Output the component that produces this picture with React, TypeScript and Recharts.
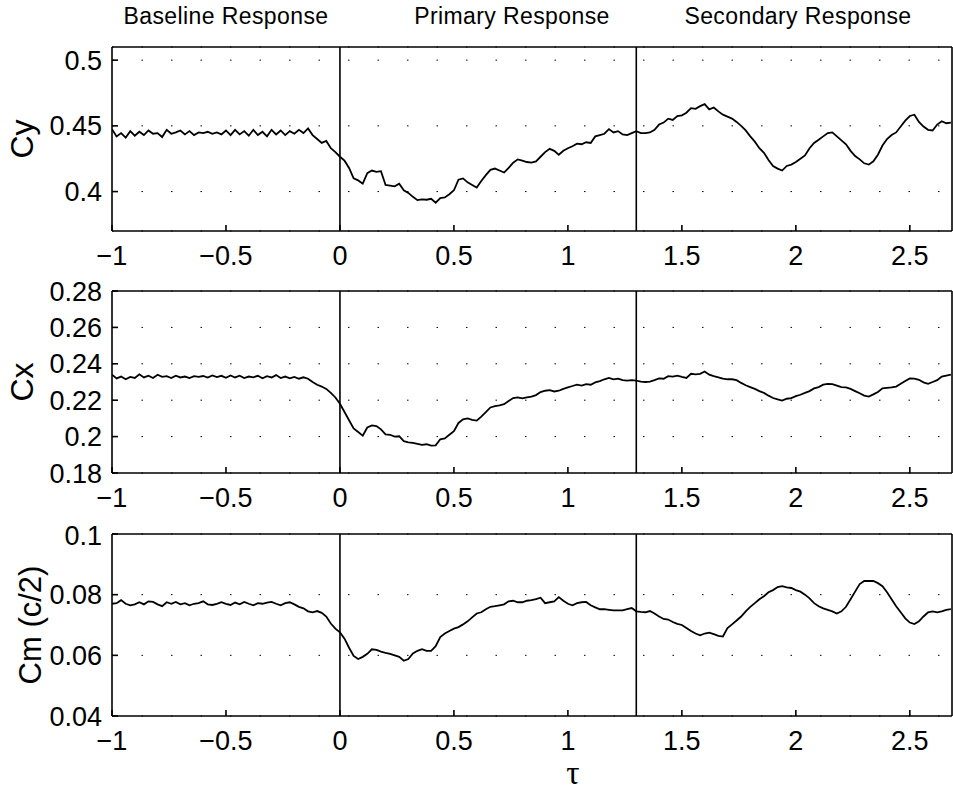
import { LineChart, Line, XAxis, YAxis, CartesianGrid, ReferenceLine } from 'recharts'

// sampling grid: tau = -1 .. 2.68, every 0.02
const tau = Array.from({ length: 185 }, (_, i) => Number((-1 + i * 0.02).toFixed(2)))

const phaseBounds = [0, 1.3]
const phaseNames = ['Baseline Response', 'Primary Response', 'Secondary Response']
const xTicks = [-1, -0.5, 0, 0.5, 1, 1.5, 2, 2.5]

const cy = [
  0.4475, 0.4420, 0.4445, 0.4410, 0.4460, 0.4425, 0.4455, 0.4430, 0.4465, 0.4440,
  0.4445, 0.4415, 0.4470, 0.4440, 0.4450, 0.4465, 0.4435, 0.4460, 0.4430, 0.4450,
  0.4445, 0.4455, 0.4440, 0.4450, 0.4435, 0.4465, 0.4430, 0.4470, 0.4435, 0.4460,
  0.4425, 0.4470, 0.4430, 0.4455, 0.4420, 0.4470, 0.4435, 0.4465, 0.4430, 0.4460,
  0.4440, 0.4470, 0.4445, 0.4480, 0.4430, 0.4400, 0.4370, 0.4385, 0.4330, 0.4300,
  0.4265, 0.4235, 0.4180, 0.4100, 0.4085, 0.4060, 0.4140, 0.4160, 0.4150, 0.4155,
  0.4050, 0.4045, 0.4040, 0.4060, 0.4010, 0.3990, 0.3960, 0.3935, 0.3940, 0.3938,
  0.3945, 0.3915, 0.3950, 0.3955, 0.3980, 0.4010, 0.4090, 0.4100, 0.4070, 0.4050,
  0.4030, 0.4080, 0.4125, 0.4165, 0.4175, 0.4160, 0.4145, 0.4180, 0.4220, 0.4245,
  0.4235, 0.4225, 0.4220, 0.4230, 0.4265, 0.4300, 0.4325, 0.4310, 0.4280, 0.4310,
  0.4330, 0.4345, 0.4365, 0.4360, 0.4375, 0.4370, 0.4420, 0.4430, 0.4440, 0.4475,
  0.4450, 0.4460, 0.4435, 0.4430, 0.4445, 0.4460, 0.4445, 0.4445, 0.4450, 0.4470,
  0.4510, 0.4525, 0.4555, 0.4545, 0.4575, 0.4580, 0.4600, 0.4635, 0.4630, 0.4650,
  0.4665, 0.4625, 0.4640, 0.4610, 0.4585, 0.4570, 0.4555, 0.4530, 0.4500, 0.4465,
  0.4420, 0.4380, 0.4330, 0.4295, 0.4240, 0.4195, 0.4175, 0.4160, 0.4195, 0.4205,
  0.4225, 0.4250, 0.4275, 0.4330, 0.4370, 0.4395, 0.4420, 0.4445, 0.4450, 0.4420,
  0.4390, 0.4360, 0.4310, 0.4270, 0.4245, 0.4215, 0.4205, 0.4230, 0.4280, 0.4350,
  0.4400, 0.4430, 0.4450, 0.4495, 0.4540, 0.4575, 0.4585, 0.4530, 0.4495, 0.4470,
  0.4465, 0.4510, 0.4535, 0.4520, 0.4525,
]

const cx = [
  0.2340, 0.2320, 0.2330, 0.2315, 0.2328, 0.2322, 0.2342, 0.2325, 0.2335, 0.2322,
  0.2340, 0.2328, 0.2332, 0.2322, 0.2335, 0.2325, 0.2330, 0.2322, 0.2332, 0.2328,
  0.2333, 0.2324, 0.2336, 0.2327, 0.2334, 0.2323, 0.2336, 0.2325, 0.2335, 0.2322,
  0.2330, 0.2326, 0.2334, 0.2320, 0.2332, 0.2325, 0.2338, 0.2322, 0.2330, 0.2320,
  0.2328, 0.2318, 0.2326, 0.2318, 0.2300, 0.2285, 0.2275, 0.2262, 0.2240, 0.2215,
  0.2180, 0.2135, 0.2090, 0.2045, 0.2025, 0.2005, 0.2050, 0.2062, 0.2058, 0.2040,
  0.2012, 0.2010, 0.2000, 0.2002, 0.1975, 0.1968, 0.1965, 0.1960, 0.1955, 0.1958,
  0.1950, 0.1952, 0.1985, 0.1990, 0.2010, 0.2030, 0.2075, 0.2095, 0.2100, 0.2092,
  0.2088, 0.2110, 0.2135, 0.2160, 0.2168, 0.2172, 0.2178, 0.2195, 0.2212, 0.2215,
  0.2210, 0.2215, 0.2220, 0.2228, 0.2245, 0.2252, 0.2255, 0.2248, 0.2252, 0.2262,
  0.2270, 0.2278, 0.2285, 0.2280, 0.2288, 0.2285, 0.2298, 0.2305, 0.2315, 0.2322,
  0.2315, 0.2318, 0.2310, 0.2308, 0.2310, 0.2308, 0.2302, 0.2300, 0.2302, 0.2310,
  0.2320, 0.2318, 0.2332, 0.2330, 0.2335, 0.2328, 0.2322, 0.2345, 0.2342, 0.2345,
  0.2358, 0.2340, 0.2332, 0.2325, 0.2318, 0.2315, 0.2315, 0.2310, 0.2295, 0.2282,
  0.2272, 0.2262, 0.2250, 0.2240, 0.2225, 0.2212, 0.2205, 0.2198, 0.2208, 0.2212,
  0.2222, 0.2230, 0.2240, 0.2250, 0.2265, 0.2272, 0.2285, 0.2290, 0.2288, 0.2280,
  0.2272, 0.2270, 0.2262, 0.2250, 0.2238, 0.2225, 0.2220, 0.2232, 0.2245, 0.2265,
  0.2268, 0.2270, 0.2275, 0.2290, 0.2305, 0.2320, 0.2318, 0.2312, 0.2298, 0.2290,
  0.2300, 0.2310, 0.2330, 0.2335, 0.2340,
]

const cm = [
  0.0770, 0.0772, 0.0782, 0.0770, 0.0765, 0.0768, 0.0775, 0.0768, 0.0778, 0.0776,
  0.0768, 0.0762, 0.0775, 0.0770, 0.0776, 0.0768, 0.0772, 0.0765, 0.0770, 0.0772,
  0.0778, 0.0768, 0.0766, 0.0770, 0.0775, 0.0770, 0.0766, 0.0774, 0.0768, 0.0776,
  0.0770, 0.0765, 0.0772, 0.0770, 0.0774, 0.0776, 0.0770, 0.0765, 0.0772, 0.0775,
  0.0768, 0.0760, 0.0755, 0.0745, 0.0742, 0.0746, 0.0740, 0.0728, 0.0705, 0.0688,
  0.0676, 0.0655, 0.0625, 0.0598, 0.0588, 0.0595, 0.0605, 0.0620, 0.0618, 0.0612,
  0.0608, 0.0605, 0.0600, 0.0595, 0.0582, 0.0588, 0.0606, 0.0615, 0.0620, 0.0615,
  0.0615, 0.0630, 0.0660, 0.0672, 0.0680, 0.0688, 0.0693, 0.0702, 0.0712, 0.0725,
  0.0738, 0.0742, 0.0752, 0.0760, 0.0762, 0.0765, 0.0768, 0.0778, 0.0780, 0.0775,
  0.0775, 0.0780, 0.0782, 0.0785, 0.0790, 0.0772, 0.0775, 0.0778, 0.0792, 0.0780,
  0.0770, 0.0765, 0.0772, 0.0775, 0.0776, 0.0765, 0.0758, 0.0752, 0.0752, 0.0750,
  0.0748, 0.0748, 0.0748, 0.0752, 0.0756, 0.0745, 0.0743, 0.0742, 0.0746, 0.0738,
  0.0728, 0.0720, 0.0718, 0.0710, 0.0704, 0.0700, 0.0690, 0.0680, 0.0672, 0.0666,
  0.0672, 0.0675, 0.0670, 0.0664, 0.0662, 0.0690, 0.0702, 0.0715, 0.0728, 0.0745,
  0.0760, 0.0772, 0.0785, 0.0795, 0.0808, 0.0815, 0.0825, 0.0828, 0.0824, 0.0822,
  0.0815, 0.0810, 0.0800, 0.0788, 0.0772, 0.0762, 0.0755, 0.0750, 0.0745, 0.0738,
  0.0745, 0.0760, 0.0785, 0.0810, 0.0835, 0.0845, 0.0845, 0.0845, 0.0838, 0.0828,
  0.0808, 0.0785, 0.0762, 0.0742, 0.0722, 0.0708, 0.0703, 0.0712, 0.0728, 0.0742,
  0.0745, 0.0742, 0.0745, 0.0750, 0.0752,
]

const cyTicks = [0.4, 0.45, 0.5]
const cxTicks = [0.18, 0.2, 0.22, 0.24, 0.26, 0.28]
const cmTicks = [0.04, 0.06, 0.08, 0.1]

const FONT = '"Liberation Sans", Arial, Helvetica, sans-serif'
const W = 953
const X_DOMAIN: [number, number] = [-1, 2.685]

const fmtX = (v: number) => (v < 0 ? '\u2212' + String(-v) : String(v))
const fmtY = (v: number) => String(Number(v.toFixed(3)))

type PanelProps = {
  values: number[]
  domain: [number, number]
  ticks: number[]
  top: number
  height: number
  marginTop: number
  axisHeight: number
}

function Panel({ values, domain, ticks, top, height, marginTop, axisHeight }: PanelProps) {
  const data = tau.map((t, i) => ({ tau: t, v: values[i] }))
  const tickStyle = { fontSize: 27, fill: '#000', fontFamily: FONT }
  return (
    <div style={{ position: 'absolute', left: 0, top }}>
      <LineChart width={W} height={height} data={data} margin={{ top: marginTop - 1, right: 0, bottom: 0, left: 0 }}>
        <CartesianGrid xAxisId="b" yAxisId="l" vertical={false} stroke="#000" strokeDasharray="1.5 28" />
        <XAxis
          xAxisId="b"
          dataKey="tau"
          type="number"
          domain={X_DOMAIN}
          ticks={xTicks}
          allowDataOverflow
          tickFormatter={fmtX}
          tick={tickStyle}
          tickSize={-6}
          tickMargin={21}
          height={axisHeight}
          stroke="#000"
          strokeWidth={1.6}
        />
        {/* frame: top and right axes with inward ticks only */}
        <XAxis
          xAxisId="t"
          dataKey="tau"
          orientation="top"
          type="number"
          domain={X_DOMAIN}
          ticks={xTicks}
          allowDataOverflow
          tick={false}
          tickSize={-6}
          height={1}
          stroke="#000"
          strokeWidth={1.6}
        />
        <YAxis
          yAxisId="l"
          type="number"
          domain={domain}
          ticks={ticks}
          allowDataOverflow
          tickFormatter={fmtY}
          tick={tickStyle}
          tickSize={-6}
          tickMargin={16}
          width={112}
          stroke="#000"
          strokeWidth={1.6}
        />
        <YAxis
          yAxisId="r"
          orientation="right"
          type="number"
          domain={domain}
          ticks={ticks}
          allowDataOverflow
          tick={false}
          tickSize={-6}
          width={1}
          stroke="#000"
          strokeWidth={1.6}
        />
        {phaseBounds.map((b) => (
          <ReferenceLine key={b} xAxisId="b" yAxisId="l" x={b} stroke="#000" strokeWidth={1.6} />
        ))}
        {/* invisible twin so the top / right frame axes get a scale */}
        <Line
          xAxisId="t"
          yAxisId="r"
          dataKey="v"
          stroke="none"
          dot={false}
          activeDot={false}
          legendType="none"
          isAnimationActive={false}
        />
        <Line
          xAxisId="b"
          yAxisId="l"
          type="linear"
          dataKey="v"
          stroke="#000"
          strokeWidth={1.8}
          dot={false}
          isAnimationActive={false}
        />
      </LineChart>
    </div>
  )
}

const textBase = { position: 'absolute' as const, fontFamily: FONT, color: '#000', whiteSpace: 'nowrap' as const, lineHeight: 1 }

function YLabel({ text, cx: x, cy: y, size }: { text: string; cx: number; cy: number; size: number }) {
  return (
    <div style={{ ...textBase, left: x, top: y, fontSize: size, transform: 'translate(-50%, -50%) rotate(-90deg)' }}>
      {text}
    </div>
  )
}

export default function App() {
  const titleX = [226, 512, 798]
  return (
    <div style={{ position: 'absolute', left: 0, top: 0, width: W, height: 791, background: '#fff', overflow: 'hidden' }}>
      {phaseNames.map((n, i) => (
        <div
          key={n}
          style={{ ...textBase, left: titleX[i], top: 5, fontSize: 23, letterSpacing: 0.4, transform: 'translateX(-50%)' }}
        >
          {n}
        </div>
      ))}
      <Panel values={cy} domain={[0.37, 0.51]} ticks={cyTicks} top={0} height={280} marginTop={47} axisHeight={49} />
      <Panel values={cx} domain={[0.18, 0.28]} ticks={cxTicks} top={260} height={260} marginTop={31} axisHeight={47} />
      <Panel values={cm} domain={[0.04, 0.1]} ticks={cmTicks} top={520} height={271} marginTop={14} axisHeight={75} />
      <YLabel text="Cy" cx={22} cy={139} size={32} />
      <YLabel text="Cx" cx={22} cy={382} size={32} />
      <YLabel text="Cm (c/2)" cx={30} cy={625} size={31} />
      <div
        style={{
          ...textBase,
          left: 573,
          top: 757,
          fontSize: 33,
          fontFamily: '"Liberation Serif", "DejaVu Serif", serif',
          transform: 'translateX(-50%)',
        }}
      >
        τ
      </div>
    </div>
  )
}
